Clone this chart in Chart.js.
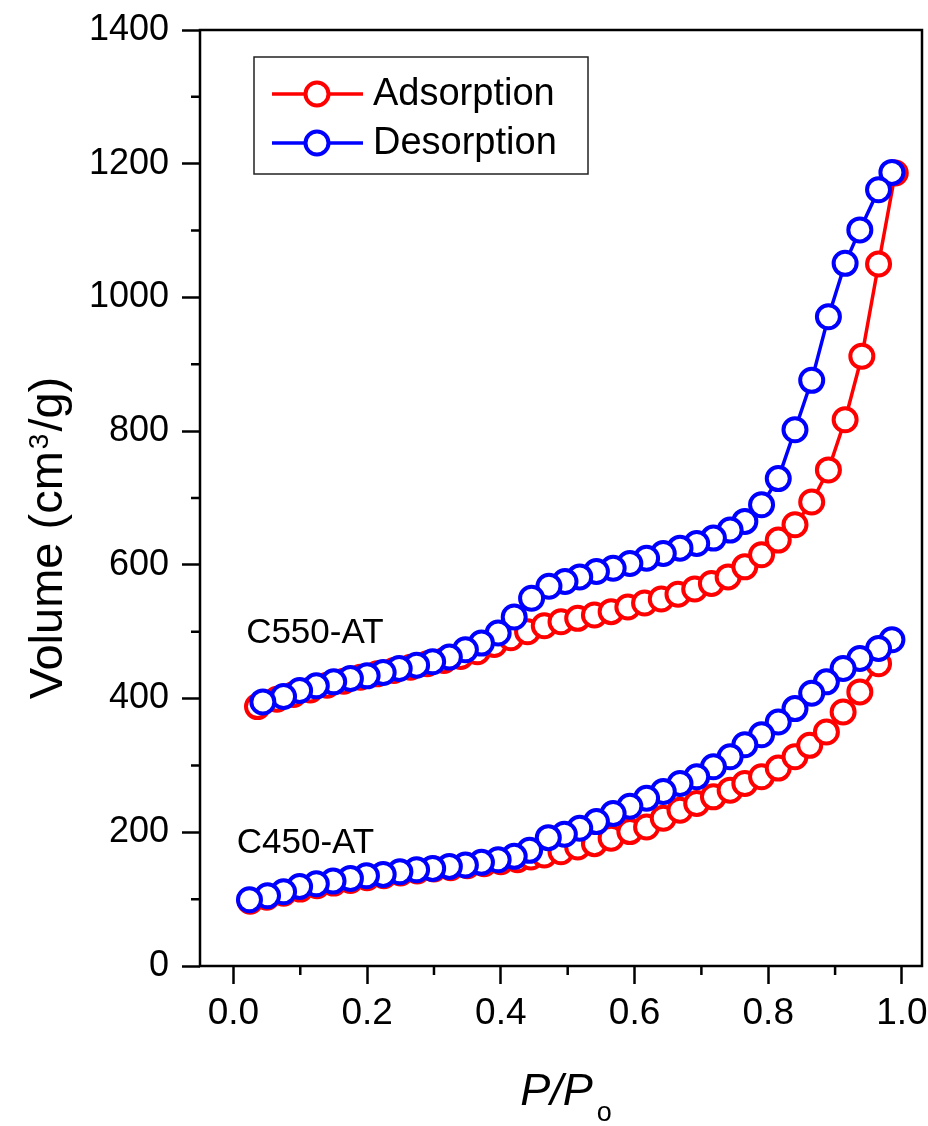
<!DOCTYPE html>
<html>
<head>
<meta charset="utf-8">
<script src="https://cdn.jsdelivr.net/npm/chart.js@4.4.1/dist/chart.umd.min.js"></script>
<style>
html, body { margin: 0; padding: 0; background: #fff; overflow: hidden; }
canvas { display: block; }
</style>
</head>
<body>
<canvas id="myChart" width="928" height="1126" style="width:928px;height:1126px"></canvas>
<script>
const FONT = 'Arial, "Liberation Sans", sans-serif';
const RED = '#ff0000';
const BLUE = '#0000ff';

// C550-AT adsorption
const c550AdsX = [0.036, 0.065, 0.09, 0.115, 0.14, 0.165, 0.19, 0.215, 0.24, 0.265, 0.29, 0.315, 0.34, 0.365, 0.39,
  0.415, 0.44, 0.465, 0.49, 0.515, 0.54, 0.565, 0.59, 0.615, 0.64, 0.665, 0.69, 0.715, 0.74, 0.765,
  0.79, 0.815, 0.84, 0.865, 0.89, 0.915, 0.94, 0.965, 0.99];
const c550AdsY = [388, 399, 406, 413, 420, 426, 432, 437, 442, 447, 452, 457, 463, 470, 481,
  491, 500, 509, 515, 520, 525, 530, 537, 543, 549, 556, 564, 572, 582, 597,
  615, 637, 660, 694, 742, 817, 912, 1050, 1186];

// C550-AT desorption
const c550DesX = [0.985, 0.965, 0.937, 0.915, 0.89, 0.865, 0.84, 0.815, 0.79, 0.765, 0.743, 0.718, 0.693, 0.668, 0.643,
  0.618, 0.593, 0.568, 0.543, 0.518, 0.496, 0.472, 0.446, 0.42, 0.396, 0.371, 0.347, 0.323, 0.298, 0.274,
  0.248, 0.224, 0.2, 0.175, 0.15, 0.124, 0.099, 0.075, 0.044];
const c550DesY = [1187, 1161, 1101, 1051, 971, 876, 802, 729, 690, 665, 652, 640, 632, 625, 617,
  610, 602, 595, 590, 582, 575, 568, 550, 522, 498, 483, 473, 462, 455, 450,
  445, 439, 434, 430, 425, 419, 412, 403, 395];

// C450-AT adsorption
const c450AdsX = [0.025, 0.05, 0.075, 0.1, 0.125, 0.15, 0.175, 0.2, 0.225, 0.25, 0.275, 0.3, 0.325, 0.35, 0.375,
  0.4, 0.425, 0.445, 0.465, 0.49, 0.515, 0.54, 0.565, 0.593, 0.618, 0.643, 0.668, 0.693, 0.718, 0.743,
  0.765, 0.79, 0.815, 0.84, 0.862, 0.887, 0.912, 0.937, 0.965];
const c450AdsY = [97, 103, 109, 115, 120, 124, 128, 132, 135, 139, 142, 145, 147, 150, 153,
  156, 159, 163, 166, 171, 178, 183, 191, 201, 208, 221, 233, 243, 253, 263,
  273, 283, 296, 313, 330, 350, 380, 410, 452];

// C450-AT desorption
const c450DesX = [0.985, 0.965, 0.937, 0.912, 0.887, 0.865, 0.84, 0.815, 0.79, 0.765, 0.743, 0.718, 0.693, 0.668, 0.643,
  0.618, 0.593, 0.568, 0.543, 0.518, 0.495, 0.471, 0.443, 0.42, 0.396, 0.371, 0.347, 0.323, 0.298, 0.274,
  0.249, 0.224, 0.199, 0.175, 0.149, 0.124, 0.099, 0.075, 0.051, 0.024];
const c450DesY = [488, 475, 460, 445, 425, 408, 385, 365, 346, 331, 313, 298, 283, 273, 261,
  251, 239, 228, 216, 206, 197, 192, 173, 164, 159, 155, 151, 149, 146, 144,
  141, 137, 135, 131, 127, 123, 119, 111, 105, 99];

const xMajorTicks = [0, 0.2, 0.4, 0.6, 0.8, 1.0];
const xMinorTicks = [0.1, 0.3, 0.5, 0.7, 0.9];
const yMinorTicks = [100, 300, 500, 700, 900, 1100, 1300];

const legendItems = ['Adsorption', 'Desorption'];
const sampleLabels = [
  { text: 'C550-AT', x: 0.019, y: 483 },
  { text: 'C450-AT', x: 0.005, y: 169 }
];

function toPoints(xs, ys) {
  return xs.map((x, i) => ({ x: x, y: ys[i] }));
}

function series(label, xs, ys, color, order) {
  return {
    label: label,
    data: toPoints(xs, ys),
    borderColor: color,
    borderWidth: 3.5,
    pointRadius: 11.5,
    pointBorderWidth: 4,
    pointBackgroundColor: '#fff',
    pointBorderColor: color,
    pointHoverRadius: 11.5,
    tension: 0,
    order: order
  };
}

// frame + minor ticks
const framePlugin = {
  id: 'framePlugin',
  beforeDatasetsDraw(chart) {
    const { ctx, chartArea: a, scales } = chart;
    ctx.save();
    ctx.strokeStyle = '#000';
    ctx.lineWidth = 2.5;
    ctx.strokeRect(a.left, a.top, a.right - a.left, a.bottom - a.top);
    ctx.beginPath();
    for (const v of xMinorTicks) {
      const px = scales.x.getPixelForValue(v);
      ctx.moveTo(px, a.bottom);
      ctx.lineTo(px, a.bottom + 9);
    }
    for (const v of yMinorTicks) {
      const py = scales.y.getPixelForValue(v);
      ctx.moveTo(a.left, py);
      ctx.lineTo(a.left - 9, py);
    }
    ctx.stroke();
    ctx.restore();
  }
};

// legend, axis titles and sample names
const textPlugin = {
  id: 'textPlugin',
  afterDraw(chart) {
    const { ctx, chartArea: a, scales } = chart;
    ctx.save();

    // legend box
    const bx = a.left + 54, by = 57, bw = 334, bh = 117;
    ctx.strokeStyle = '#222';
    ctx.lineWidth = 1.5;
    ctx.strokeRect(bx, by, bw, bh);
    const colors = [RED, BLUE];
    const rows = [94, 143];
    legendItems.forEach((name, i) => {
      const y = rows[i];
      ctx.strokeStyle = colors[i];
      ctx.lineWidth = 3.5;
      ctx.beginPath();
      ctx.moveTo(bx + 18, y);
      ctx.lineTo(bx + 109, y);
      ctx.stroke();
      ctx.beginPath();
      ctx.arc(bx + 63, y, 11.5, 0, Math.PI * 2);
      ctx.fillStyle = '#fff';
      ctx.fill();
      ctx.lineWidth = 4;
      ctx.stroke();
      ctx.fillStyle = '#000';
      ctx.font = '38px ' + FONT;
      ctx.textBaseline = 'middle';
      ctx.textAlign = 'left';
      ctx.fillText(name, bx + 119, y + 1);
    });

    // sample names
    ctx.fillStyle = '#000';
    ctx.font = '35px ' + FONT;
    ctx.textBaseline = 'alphabetic';
    for (const l of sampleLabels) {
      ctx.fillText(l.text, scales.x.getPixelForValue(l.x), scales.y.getPixelForValue(l.y));
    }

    // x title: P/Po
    ctx.font = 'italic 45px ' + FONT;
    const w1 = ctx.measureText('P/P').width;
    ctx.font = '27px ' + FONT;
    const w2 = ctx.measureText('o').width;
    let x0 = (a.left + a.right) / 2 + 5 - (w1 + w2 + 4) / 2;
    ctx.font = 'italic 45px ' + FONT;
    ctx.fillText('P/P', x0, 1105);
    ctx.font = '27px ' + FONT;
    ctx.fillText('o', x0 + w1 + 4, 1121);

    // y title: Volume (cm3/g)
    ctx.translate(62, (a.top + a.bottom) / 2 + 40);
    ctx.rotate(-Math.PI / 2);
    ctx.font = '47px ' + FONT;
    const p1 = 'Volume (cm', p3 = '/g)';
    const t1 = ctx.measureText(p1).width;
    const t3 = ctx.measureText(p3).width;
    ctx.font = '28px ' + FONT;
    const t2 = ctx.measureText('3').width;
    let s = -(t1 + t2 + t3 + 4) / 2;
    ctx.font = '47px ' + FONT;
    ctx.fillText(p1, s, 0);
    ctx.font = '28px ' + FONT;
    ctx.fillText('3', s + t1 + 2, -14);
    ctx.font = '47px ' + FONT;
    ctx.fillText(p3, s + t1 + t2 + 4, 0);

    ctx.restore();
  }
};

const ctxEl = document.getElementById('myChart');
new Chart(ctxEl, {
  type: 'line',
  data: {
    datasets: [
      series('C550-AT Adsorption', c550AdsX, c550AdsY, RED, 3),
      series('C550-AT Desorption', c550DesX, c550DesY, BLUE, 2),
      series('C450-AT Adsorption', c450AdsX, c450AdsY, RED, 1),
      series('C450-AT Desorption', c450DesX, c450DesY, BLUE, 0)
    ]
  },
  options: {
    responsive: false,
    maintainAspectRatio: false,
    animation: false,
    devicePixelRatio: 1,
    layout: { autoPadding: false, padding: { top: 30, right: 6, left: 0, bottom: 0 } },
    plugins: {
      legend: { display: false },
      tooltip: { enabled: false }
    },
    scales: {
      x: {
        type: 'linear',
        min: -0.05,
        max: 1.03,
        border: { display: false },
        grid: { drawOnChartArea: false, drawTicks: true, tickLength: 18, tickWidth: 2.5, tickColor: '#000' },
        afterBuildTicks: (scale) => { scale.ticks = xMajorTicks.map(v => ({ value: v })); },
        ticks: {
          includeBounds: false,
          padding: 0,
          color: '#000',
          maxRotation: 0,
          font: { family: FONT, size: 37, lineHeight: 1.63 },
          callback: (v) => Number(v).toFixed(1)
        },
        afterFit: (scale) => { scale.height = 160; scale.paddingLeft = 0; scale.paddingRight = 0; }
      },
      y: {
        min: 0,
        max: 1400,
        border: { display: false },
        grid: { drawOnChartArea: false, drawTicks: true, tickLength: 18, tickWidth: 2.5, tickColor: '#000' },
        ticks: {
          stepSize: 200,
          padding: 13,
          color: '#000',
          font: { family: FONT, size: 36 },
          callback: (v) => String(v)
        },
        afterFit: (scale) => { scale.width = 200; scale.paddingTop = 0; scale.paddingBottom = 0; }
      }
    }
  },
  plugins: [framePlugin, textPlugin]
});
</script>
</body>
</html>
